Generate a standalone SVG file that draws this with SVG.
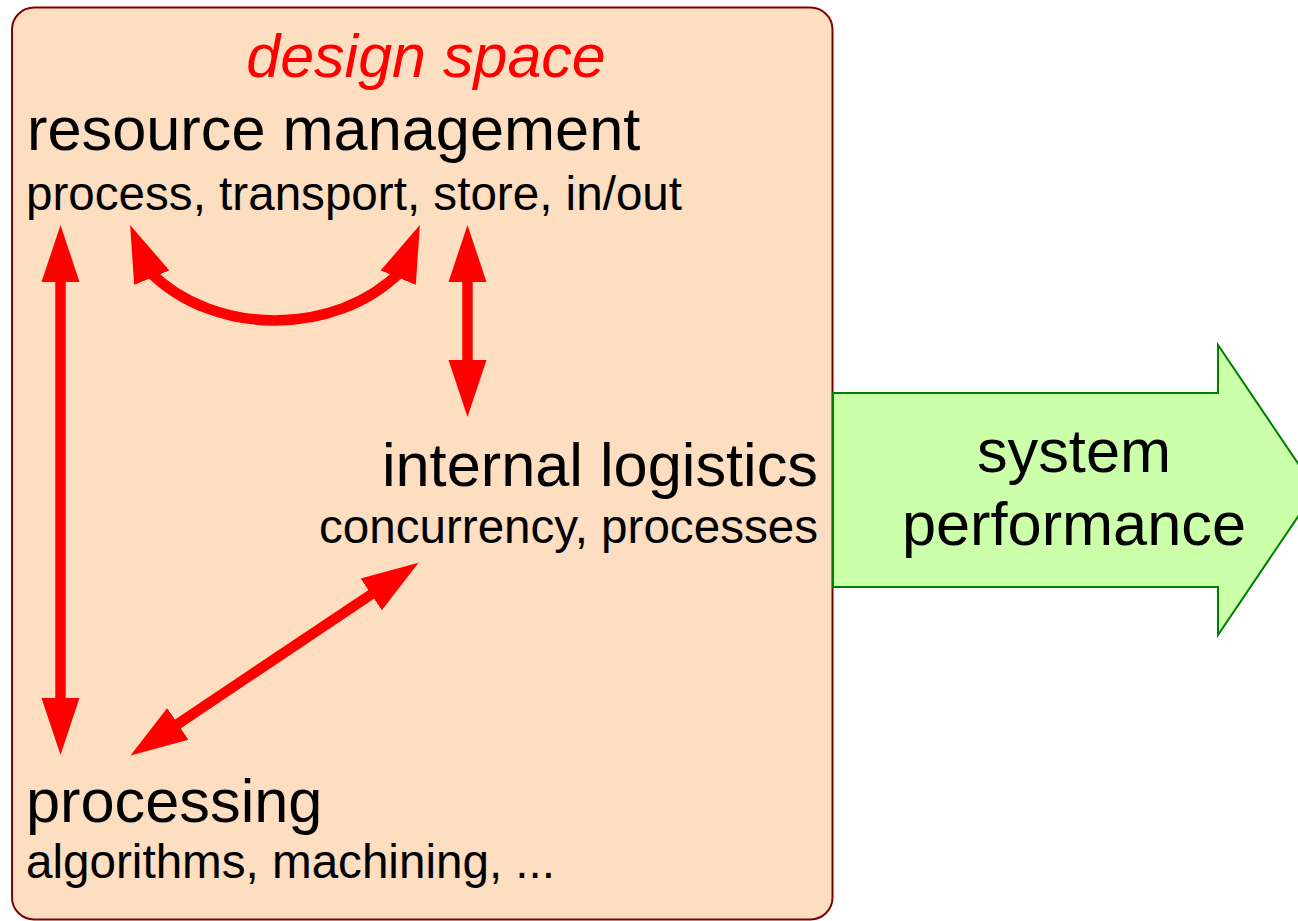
<svg xmlns="http://www.w3.org/2000/svg" width="1298" height="921" viewBox="0 0 1298 921">
  <style>
    text { font-family: "Liberation Sans", Arial, Helvetica, sans-serif; fill: #000000; }
    .big { font-size: 61.3px; }
    .small { font-size: 47.6px; }
    .title { font-size: 61px; font-style: italic; fill: #ff0000; }
    .link { fill: none; stroke: #ff0000; stroke-width: 10.5; }
  </style>
  <defs>
    <!-- red arrowhead, follows the path direction -->
    <marker id="head" markerUnits="userSpaceOnUse" viewBox="0 -20 58 40" markerWidth="58" markerHeight="40" refX="7" refY="0" orient="auto-start-reverse">
      <path d="M0,-19 L57,0 L0,19 Z" fill="#ff0000"/>
    </marker>
    <!-- fixed-angle heads for the curved link -->
    <marker id="headLeft" markerUnits="userSpaceOnUse" viewBox="0 -20 58 40" markerWidth="58" markerHeight="40" refX="7" refY="0" orient="-112.3">
      <path d="M0,-19 L57,0 L0,19 Z" fill="#ff0000"/>
    </marker>
    <marker id="headRight" markerUnits="userSpaceOnUse" viewBox="0 -20 58 40" markerWidth="58" markerHeight="40" refX="7" refY="0" orient="-67.7">
      <path d="M0,-19 L57,0 L0,19 Z" fill="#ff0000"/>
    </marker>
  </defs>

  <!-- design space container -->
  <g id="design-space">
    <rect x="12" y="7.5" width="820.5" height="912" rx="22" ry="22" fill="#fddec0" stroke="#800000" stroke-width="2"/>
    <text class="title" x="426" y="77" text-anchor="middle">design space</text>
  </g>

  <!-- system performance output arrow -->
  <g id="system-performance">
    <polygon points="833,393 1218,393 1218,345 1316,490 1218,635 1218,587 833,587" fill="#ccffaa" stroke="#008000" stroke-width="2"/>
    <text class="big" x="1074" y="471.5" text-anchor="middle">system</text>
    <text class="big" x="1074" y="545" text-anchor="middle">performance</text>
  </g>

  <g id="resource-management">
    <text class="big" x="27" y="150">resource management</text>
    <text class="small" x="26" y="210">process, transport, store, in/out</text>
  </g>

  <g id="internal-logistics">
    <text class="big" x="818" y="485.5" text-anchor="end">internal logistics</text>
    <text class="small" x="818" y="543" text-anchor="end">concurrency, processes</text>
  </g>

  <g id="processing">
    <text class="big" x="26" y="822">processing</text>
    <text class="small" x="26" y="878">algorithms, machining, ...</text>
  </g>

  <!-- relations between the design aspects -->
  <g id="connectors">
    <path class="link" d="M60.5,275 L60.5,705" marker-start="url(#head)" marker-end="url(#head)"/>
    <path class="link" d="M467.5,275 L467.5,367" marker-start="url(#head)" marker-end="url(#head)"/>
    <path class="link" d="M377,590.5 L172,727.8" marker-start="url(#head)" marker-end="url(#head)"/>
    <path class="link" d="M149.1,271.2 C214,336.9 336,336.9 400.9,271.2" marker-start="url(#headLeft)" marker-end="url(#headRight)"/>
  </g>
</svg>
